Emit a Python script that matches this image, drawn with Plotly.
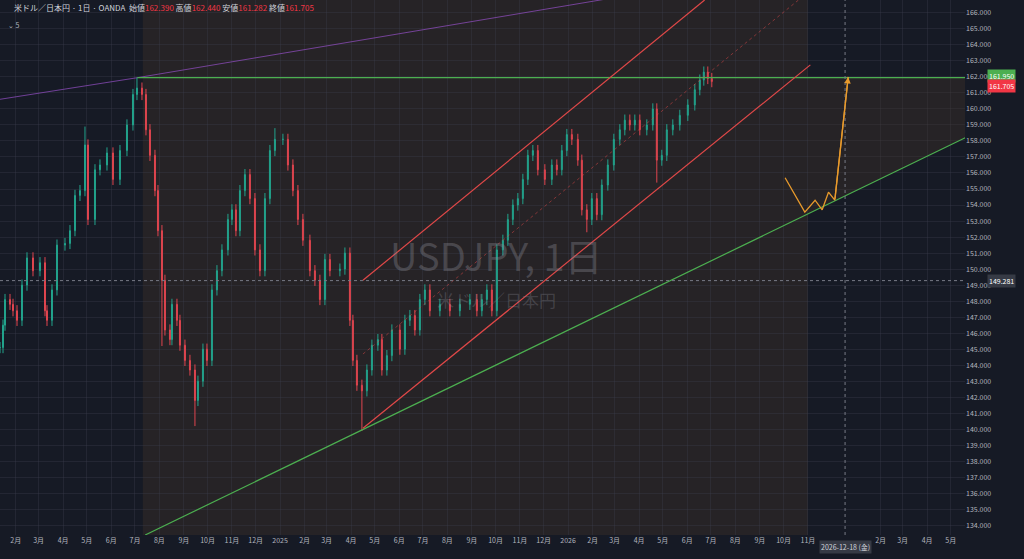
import plotly.graph_objects as go
import pandas as pd

closes = [145.1,146.5,148.1,147.8,147.4,146.8,149.0,150.7,149.9,150.4,147.4,146.8,148.7,151.5,151.6,152.4,154.6,154.9,157.75,153.1,
156.2,156.5,157.25,155.6,157.4,159.0,160.9,161.3,160.9,158.7,157.1,154.9,152.4,149.3,146.2,145.6,147.8,146.8,145.25,144.3,
143.7,141.8,143.0,145.0,144.3,148.7,149.9,151.2,153.1,153.7,152.4,154.9,155.9,154.4,151.2,149.9,154.4,157.4,158.1,158.1,
156.5,154.9,153.1,151.8,149.9,149.3,148.1,150.6,149.9,150.0,151.0,146.8,144.3,142.75,142.4,143.7,145.25,145.6,143.7,144.6,
146.2,145.0,146.8,147.1,146.2,148.1,148.7,147.4,147.8,147.4,147.8,148.1,147.4,148.1,148.7,147.4,151.2,151.8,153.1,154.0,
154.4,155.6,157.1,157.4,156.2,155.6,156.5,156.2,157.4,158.4,158.1,156.8,153.7,153.1,154.4,153.4,155.25,156.5,158.1,158.7,
159.3,159.0,159.3,158.7,159.0,160.0,156.8,157.1,158.7,159.0,159.6,160.25,161.2,161.8,162.3,161.9,161.705]
# time position of each bar, in units of ~1.267 days after the first bar
bar_pos = [0,3,5,10,13,17,22,27,33,40,45,47,52,57,65,70,75,80,85,88,
95,100,107,113,120,127,133,137,142,146,150,155,158,162,165,170,172,177,180,185,
190,195,198,203,207,212,217,222,228,232,236,240,245,250,255,260,265,270,275,283,
288,293,298,303,310,315,320,325,330,340,345,350,353,357,362,367,372,378,382,387,
392,400,405,410,415,420,425,430,440,450,460,470,477,482,487,492,497,503,508,513,
518,523,528,533,538,545,552,557,562,567,572,578,582,587,592,597,602,608,614,620,
625,630,635,640,647,653,657,662,667,673,680,688,695,700,704,708,712]
extreme_highs = {18: 158.9, 27: 161.95, 58: 158.8, 125: 160.3, 134: 162.44}
extreme_lows = {33: 145.2, 41: 140.2, 74: 139.9, 113: 152.3, 126: 155.4}
first_date = pd.Timestamp("2024-01-12")

dates = [first_date + pd.Timedelta(days=p * 1.267) for p in bar_pos]
opens = [closes[0]] + closes[:-1]
highs = [max(o, c) + 0.35 for o, c in zip(opens, closes)]
lows = [min(o, c) - 0.35 for o, c in zip(opens, closes)]
for k, v in extreme_highs.items(): highs[k] = max(highs[k], v)
for k, v in extreme_lows.items(): lows[k] = min(lows[k], v)

peak_date, peak_price = "2024-07-04", 161.95
box_start, box_end = "2024-07-11", "2026-11-01"
support_x = ["2024-07-14", "2026-11-01", "2027-06-26"]; support_y = [133.4, 153.44, 159.1]
purple_x = ["2024-01-12", "2024-07-04", "2026-11-04"]; purple_y = [160.6, 161.95, 169.0]
ch_up_x = ["2025-04-16", "2026-06-23"]; ch_up_y = [149.3, 166.8]
ch_lo_x = ["2025-04-16", "2026-11-04"]; ch_lo_y = [140.06, 162.75]
ch_mid_x = ["2025-04-16", "2026-11-04"]; ch_mid_y = [144.7, 167.4]
orange_x = ["2026-10-03", "2026-10-28", "2026-11-10", "2026-11-19", "2026-11-27", "2026-12-05", "2026-12-22"]
orange_y = [155.7, 153.56, 154.3, 153.7, 154.8, 154.3, 162.0]
cursor_date, cursor_price = "2026-12-18", 149.281
last_price = 161.705

bg = "#161a25"
brown = "rgba(70,55,40,0.35)"
fig = go.Figure()
fig.add_shape(type="rect", x0=box_start, x1=box_end, y0=133.4, y1=166.8, fillcolor=brown, line_width=0, layer="below")
fig.add_trace(go.Scatter(x=[box_end, support_x[2], support_x[2], box_end],
                         y=[peak_price, peak_price, support_y[2], support_y[1]],
                         fill="toself", fillcolor=brown, line_width=0, mode="lines", hoverinfo="skip", showlegend=False))
fig.add_trace(go.Scatter(x=purple_x, y=purple_y, mode="lines", line=dict(color="rgba(150,80,200,0.7)", width=1), showlegend=False))
fig.add_trace(go.Scatter(x=[peak_date, "2027-06-26"], y=[peak_price, peak_price], mode="lines", line=dict(color="#4caf50", width=1.2), showlegend=False))
fig.add_trace(go.Scatter(x=support_x, y=support_y, mode="lines", line=dict(color="#4caf50", width=1.2), showlegend=False))
fig.add_trace(go.Scatter(x=ch_up_x, y=ch_up_y, mode="lines", line=dict(color="#e04848", width=1.2), showlegend=False))
fig.add_trace(go.Scatter(x=ch_lo_x, y=ch_lo_y, mode="lines", line=dict(color="#e04848", width=1.2), showlegend=False))
fig.add_trace(go.Scatter(x=ch_mid_x, y=ch_mid_y, mode="lines", line=dict(color="rgba(224,72,72,0.5)", width=1, dash="dot"), showlegend=False))
fig.add_trace(go.Candlestick(x=dates, open=opens, high=highs, low=lows, close=closes,
                             increasing=dict(line=dict(color="#22a38c", width=1), fillcolor="#22a38c"),
                             decreasing=dict(line=dict(color="#e0454f", width=1), fillcolor="#e0454f"),
                             whiskerwidth=0, showlegend=False))
fig.add_trace(go.Scatter(x=orange_x, y=orange_y, mode="lines", line=dict(color="#e89a2c", width=1.3), showlegend=False))
fig.add_annotation(x=orange_x[-1], y=orange_y[-1], ax=orange_x[-2], ay=orange_y[-2], xref="x", yref="y", axref="x", ayref="y",
                   showarrow=True, arrowhead=2, arrowsize=1, arrowwidth=1.3, arrowcolor="#e89a2c", text="")
fig.add_shape(type="line", x0=cursor_date, x1=cursor_date, y0=0, y1=1, yref="paper", line=dict(color="#787b86", width=1, dash="dot"))
fig.add_shape(type="line", x0=0, x1=1, xref="paper", y0=cursor_price, y1=cursor_price, line=dict(color="#787b86", width=1, dash="dot"))

fig.add_annotation(x=0.515, y=0.525, xref="paper", yref="paper", text="USDJPY, 1日", showarrow=False,
                   font=dict(size=38, color="rgba(140,140,150,0.35)", family="Noto Sans CJK JP"))
fig.add_annotation(x=0.515, y=0.44, xref="paper", yref="paper", text="米ドル／日本円", showarrow=False,
                   font=dict(size=17, color="rgba(140,140,150,0.3)", family="Noto Sans CJK JP"))
fig.add_annotation(x=0.012, y=1.0, xref="paper", yref="paper", xanchor="left", yanchor="top", showarrow=False,
    text="米ドル／日本円 · 1日 · OANDA  始値<span style='color:#f23645'>162.390</span> 高値<span style='color:#f23645'>162.440</span> 安値<span style='color:#f23645'>161.282</span> 終値<span style='color:#f23645'>161.705</span>",
    font=dict(size=8, color="#d1d4dc", family="Noto Sans CJK JP"))
fig.add_annotation(x=0.006, y=0.967, xref="paper", yref="paper", xanchor="left", yanchor="top", showarrow=False,
                   text="⌄ 5", font=dict(size=7, color="#b2b5be"))
for p, col, txt in [(peak_price + 0.1, "#4caf50", "161.950"), (last_price - 0.3, "#f23645", "161.705"), (cursor_price, "#363a45", "149.281")]:
    fig.add_annotation(x=1.0, y=p, xref="paper", yref="y", xanchor="left", text=txt, showarrow=False,
                       bgcolor=col, font=dict(size=7, color="#ffffff"), borderpad=1, xshift=22)
fig.add_annotation(x=cursor_date, y=0, xref="x", yref="paper", yanchor="top", text="2026-12-18 (金)", showarrow=False,
                   bgcolor="#363a45", font=dict(size=7, color="#d1d4dc"), yshift=-5)

tick_months = [d for d in pd.date_range("2024-02-01", "2027-07-01", freq="MS") if not (pd.Timestamp("2026-12-01") <= d <= pd.Timestamp("2027-01-01"))]
tick_text = [str(d.year) if d.month == 1 else f"{d.month}月" for d in tick_months]
fig.update_layout(width=1024, height=559, paper_bgcolor=bg, plot_bgcolor=bg,
                  margin=dict(l=0, r=59, t=0, b=24, autoexpand=False), font=dict(family="Noto Sans CJK JP", color="#b2b5be", size=7),
                  xaxis=dict(range=["2024-01-12", "2027-05-19"], tickvals=tick_months, ticktext=tick_text, showgrid=True,
                             gridcolor="rgba(60,64,78,0.35)", rangeslider_visible=False, zeroline=False, tickfont=dict(size=7)),
                  yaxis=dict(range=[133.4, 166.8], side="right", dtick=1, tickformat=".3f", showgrid=True,
                             gridcolor="rgba(60,64,78,0.35)", zeroline=False, tickfont=dict(size=7)))
fig.write_html("out.html", post_script="document.body.style.margin='0';document.body.style.background='#161a25';",
               config={"displayModeBar": False})
